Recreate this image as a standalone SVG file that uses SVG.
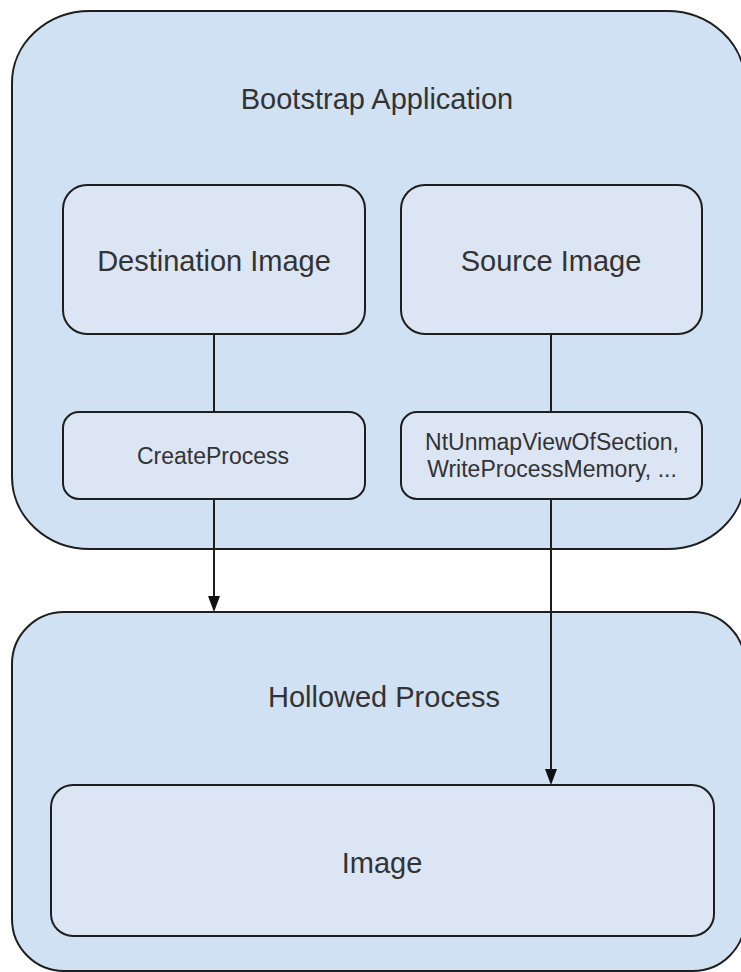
<svg xmlns="http://www.w3.org/2000/svg" width="741" height="972" viewBox="0 0 741 972">
<style>
.outer{fill:#cfe1f2;stroke:#1e1e1e;stroke-width:2}
.inner{fill:#dbe5f4;stroke:#1e1e1e;stroke-width:2}
.t{font-family:"Liberation Sans",Arial,sans-serif;fill:#333;text-anchor:middle}
.big{font-size:29px}
.small{font-size:23px}
.c{stroke:#1e1e1e;stroke-width:2;fill:none}
.head{fill:#111}
</style>
<rect width="741" height="972" fill="#fff"/>
<g id="bootstrap">
<rect class="outer" x="12" y="11" width="733" height="538" rx="78" ry="72"/>
<text class="t big" x="377" y="109">Bootstrap Application</text>
</g>
<g id="hollowed">
<rect class="outer" x="12" y="612" width="733" height="359" rx="52" ry="52"/>
<text class="t big" x="384" y="707">Hollowed Process</text>
</g>
<g id="destination">
<rect class="inner" x="63" y="185" width="302" height="149" rx="24"/>
<text class="t big" x="214" y="271">Destination Image</text>
</g>
<g id="source">
<rect class="inner" x="401" y="185" width="301" height="149" rx="24"/>
<text class="t big" x="551" y="271">Source Image</text>
</g>
<g id="createprocess">
<rect class="inner" x="63" y="412" width="302" height="87" rx="16"/>
<text class="t small" x="213" y="464">CreateProcess</text>
</g>
<g id="ntunmap">
<rect class="inner" x="401" y="412" width="301" height="87" rx="16"/>
<text class="t small" x="552" y="450">NtUnmapViewOfSection,</text>
<text class="t small" x="552" y="477">WriteProcessMemory, ...</text>
</g>
<g id="image">
<rect class="inner" x="51" y="785" width="663" height="151" rx="22"/>
<text class="t big" x="382" y="873">Image</text>
</g>
<g id="connectors">
<line class="c" x1="214" y1="334" x2="214" y2="412"/>
<line class="c" x1="551" y1="334" x2="551" y2="412"/>
<line class="c" x1="214" y1="499" x2="214" y2="597"/>
<path class="head" d="M208,596 L220,596 L214,612 Z"/>
<line class="c" x1="551" y1="499" x2="551" y2="770"/>
<path class="head" d="M545,769 L557,769 L551,785 Z"/>
</g>
</svg>
